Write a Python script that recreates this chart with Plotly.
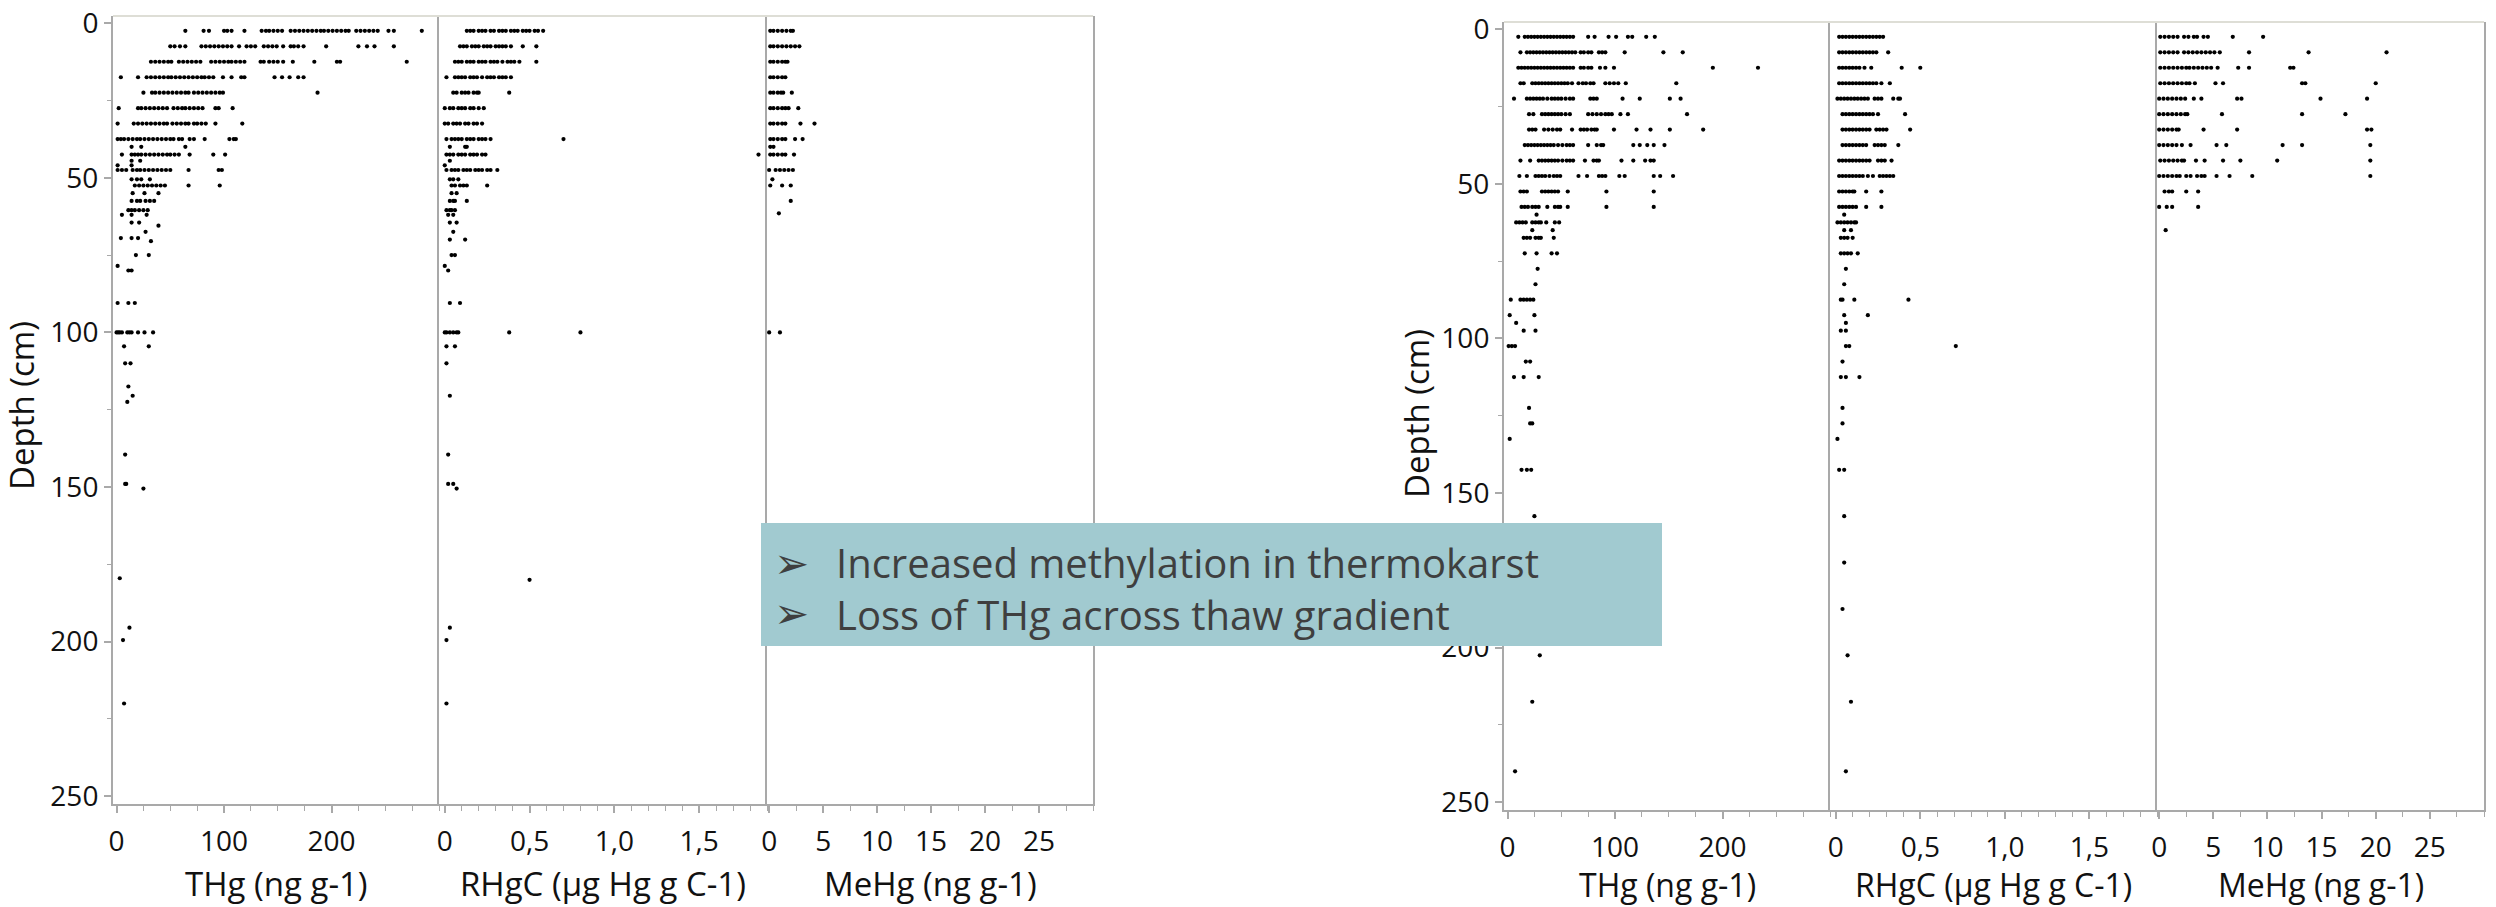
import plotly.graph_objects as go

# ---------------------------------------------------------------------------
# Soil-core profiles: depth (cm) rows and the values measured at each depth.
# Group A = left set of panels, group B = right set of panels.
# ---------------------------------------------------------------------------

# ---- group A : THg (ng g-1) ----
A_THG_DEPTH = [2.5, 7.5, 12.5, 17.5, 22.5, 27.5, 32.5, 37.5, 40, 42.5, 44.5, 46, 47.5,
               50.5, 52.5, 55, 57.5, 60.5, 62, 64.5, 65.5, 67.5, 69.5, 70.5, 75, 78.5,
               80, 90.5, 100, 104.5, 110, 117.5, 120.5, 122.5, 139.5, 149, 150.5,
               179.5, 195.5, 199.5, 220]
A_THG = [
    [64, 81, 86, 100, 103, 107, 119, 135, 139, 142, 146, 150, 154, 162, 166, 170, 174, 178,
     182, 186, 190, 193, 197, 201, 205, 209, 213, 216, 223, 227, 231, 235, 239, 243, 253, 258, 284],
    [50, 54, 59, 64, 79, 83, 87, 91, 95, 99, 103, 107, 114, 121, 125, 129, 137, 141, 145, 149,
     155, 162, 165, 169, 174, 195, 225, 233, 240, 258],
    [32, 36, 40, 44, 48, 51, 58, 62, 66, 70, 74, 78, 88, 92, 96, 100, 104, 107, 111, 115, 119,
     134, 137, 142, 146, 150, 155, 164, 184, 205, 208, 270],
    [4, 20, 28, 32, 36, 40, 44, 48, 51, 55, 59, 63, 67, 71, 75, 79, 82, 86, 90, 99, 107, 116,
     119, 147, 154, 161, 169, 174],
    [25, 33, 36, 40, 44, 48, 52, 56, 60, 64, 67, 72, 76, 80, 84, 88, 92, 96, 99, 187],
    [2, 20, 23, 27, 31, 35, 39, 43, 47, 53, 57, 61, 64, 68, 72, 76, 80, 92, 95, 108],
    [1, 16, 20, 24, 28, 32, 36, 40, 44, 47, 52, 56, 60, 64, 67, 72, 75, 79, 83, 92, 117],
    [1, 4, 7, 11, 15, 19, 22, 26, 30, 34, 38, 42, 46, 50, 53, 58, 61, 68, 72, 82, 105, 109, 111],
    [14, 23, 64],
    [5, 14, 17, 20, 23, 27, 31, 35, 39, 43, 47, 50, 54, 58, 68, 90, 101],
    [14, 22],
    [1, 14],
    [1, 5, 9, 15, 19, 22, 26, 30, 34, 38, 42, 46, 50, 67, 95, 98],
    [14, 19, 23, 31],
    [17, 21, 25, 29, 33, 37, 41, 45, 67, 96],
    [15, 26, 39],
    [14, 19, 22, 27, 31, 35],
    [11, 14, 17, 21, 25, 29],
    [5, 14, 28],
    [14, 21],
    [39],
    [27],
    [4, 14, 20],
    [32],
    [18, 30],
    [1],
    [11, 14],
    [1, 11, 17],
    [0, 1.5, 3, 5, 10, 12, 14, 20, 26, 34],
    [7, 30],
    [8, 13],
    [11],
    [15],
    [10],
    [8],
    [8, 9],
    [25],
    [3],
    [12],
    [6],
    [7],
]

# ---- group A : RHgC (µg Hg g C-1) ----
A_RHGC_DEPTH = [2.5, 7.5, 12.5, 17.5, 22.5, 27.5, 32.5, 37.5, 40, 42.5, 44.5, 46, 47.5,
                50.5, 52.5, 55, 57.5, 60.5, 62, 64.5, 67.5, 70, 75, 78.5, 80, 90.5, 100,
                104.5, 110, 120.5, 139.5, 149, 150.5, 180, 195.5, 199.5, 220]
A_RHGC = [
    [0.13, 0.15, 0.17, 0.20, 0.22, 0.24, 0.27, 0.29, 0.32, 0.34, 0.36, 0.39, 0.41, 0.43, 0.46,
     0.48, 0.50, 0.53, 0.55, 0.58],
    [0.09, 0.11, 0.13, 0.16, 0.18, 0.20, 0.23, 0.25, 0.27, 0.30, 0.32, 0.34, 0.36, 0.39, 0.46, 0.54],
    [0.06, 0.08, 0.10, 0.13, 0.15, 0.17, 0.20, 0.22, 0.24, 0.27, 0.29, 0.31, 0.34, 0.37, 0.39,
     0.41, 0.44, 0.54],
    [0.01, 0.06, 0.08, 0.10, 0.12, 0.15, 0.17, 0.19, 0.22, 0.25, 0.27, 0.29, 0.32, 0.34, 0.36, 0.39],
    [0.05, 0.07, 0.10, 0.12, 0.14, 0.17, 0.19, 0.20, 0.38],
    [0.00, 0.03, 0.05, 0.08, 0.10, 0.12, 0.15, 0.17, 0.20, 0.23],
    [0.00, 0.02, 0.05, 0.07, 0.09, 0.12, 0.14, 0.17, 0.19, 0.22],
    [0.01, 0.04, 0.06, 0.08, 0.10, 0.13, 0.15, 0.17, 0.20, 0.22, 0.24, 0.27, 0.70],
    [0.03, 0.12, 0.13],
    [0.01, 0.03, 0.05, 0.08, 0.10, 0.12, 0.15, 0.17, 0.19, 0.22, 0.24, 1.85],
    [0.03],
    [0.00],
    [0.01, 0.04, 0.06, 0.08, 0.11, 0.13, 0.15, 0.18, 0.20, 0.22, 0.25, 0.27, 0.31],
    [0.03, 0.05, 0.08],
    [0.04, 0.06, 0.09, 0.11, 0.13, 0.25],
    [0.04, 0.07],
    [0.03, 0.05, 0.06, 0.13],
    [0.01, 0.03, 0.04, 0.06],
    [0.02, 0.05],
    [0.03, 0.07],
    [0.05],
    [0.03, 0.12],
    [0.04, 0.06],
    [0.00],
    [0.02],
    [0.03, 0.09],
    [0.00, 0.01, 0.03, 0.05, 0.07, 0.08, 0.38, 0.80],
    [0.01, 0.06],
    [0.01],
    [0.03],
    [0.02],
    [0.02, 0.05],
    [0.07],
    [0.50],
    [0.03],
    [0.01],
    [0.01],
]

# ---- group A : MeHg (ng g-1) ----
A_MEHG_DEPTH = [2.5, 7.5, 12.5, 17.5, 22.5, 27.5, 32.5, 37.5, 40, 42.5, 47.5, 50.5,
                52.5, 57.5, 61.5, 100]
A_MEHG = [
    [0.1, 0.4, 0.8, 1.2, 1.6, 2.0, 2.2],
    [0.1, 0.4, 0.8, 1.2, 1.6, 2.0, 2.4, 2.8],
    [0.1, 0.4, 0.8, 1.2, 1.5, 1.7],
    [0.1, 0.4, 0.8, 1.2, 1.5],
    [0.1, 0.4, 0.8, 1.1, 1.3, 2.1],
    [0.1, 0.4, 0.8, 1.2, 1.5, 1.8, 2.7],
    [0.1, 0.4, 0.8, 1.2, 1.5, 2.9, 4.2],
    [0.1, 0.4, 0.8, 1.2, 1.5, 2.4, 3.1],
    [0.1, 0.4],
    [0.1, 0.4, 0.8, 1.2, 1.5, 2.3],
    [0.0, 0.6, 1.0, 1.4, 1.8, 2.2],
    [0.3],
    [0.1, 1.2, 2.0],
    [2.0],
    [0.9],
    [0.0, 1.0],
]

# ---- group B : THg (ng g-1) ----
B_THG_DEPTH = [2.5, 7.5, 12.5, 17.5, 22.5, 27.5, 32.5, 37.5, 42.5, 47.5, 52.5, 57.5, 60,
               62.5, 65, 67.5, 72.5, 77.5, 82.5, 87.5, 92.5, 95, 97.5, 102.5, 107.5,
               112.5, 122.5, 127.5, 132.5, 142.5, 157.5, 202.5, 217.5, 240]
B_THG = [
    [10, 16, 19, 22, 25, 28, 31, 34, 37, 40, 43, 46, 49, 52, 55, 58, 61, 75, 81, 94, 101, 112,
     116, 129, 137],
    [12, 18, 21, 24, 27, 30, 33, 36, 39, 42, 45, 48, 51, 54, 57, 60, 63, 68, 71, 75, 78, 85, 88,
     91, 109, 145, 163],
    [10, 13, 16, 19, 22, 25, 28, 31, 34, 37, 40, 43, 46, 49, 52, 55, 58, 61, 68, 71, 75, 78, 86,
     91, 99, 191, 233],
    [12, 15, 23, 26, 29, 32, 35, 38, 41, 44, 47, 50, 53, 56, 60, 66, 70, 73, 77, 80, 91, 95, 99,
     103, 110, 157],
    [6, 18, 21, 24, 27, 30, 33, 37, 41, 44, 47, 50, 54, 58, 61, 77, 80, 83, 107, 123, 151, 161],
    [20, 24, 32, 35, 38, 41, 44, 47, 50, 54, 58, 75, 79, 83, 87, 91, 94, 97, 105, 112, 167],
    [20, 23, 26, 34, 38, 42, 46, 49, 60, 68, 71, 74, 78, 81, 83, 99, 120, 133, 151, 182],
    [16, 19, 22, 25, 28, 31, 34, 37, 40, 43, 47, 51, 55, 58, 61, 75, 83, 87, 89, 117, 123, 130,
     136, 146],
    [12, 21, 29, 32, 35, 38, 41, 44, 47, 51, 55, 58, 61, 72, 80, 83, 85, 106, 117, 128, 133, 136],
    [11, 18, 26, 29, 32, 35, 39, 43, 46, 49, 66, 74, 85, 88, 91, 104, 109, 136, 142, 154],
    [12, 15, 18, 32, 35, 38, 41, 44, 47, 56, 92, 136],
    [13, 16, 19, 23, 26, 29, 37, 44, 47, 49, 56, 92, 136],
    [27],
    [8, 11, 14, 17, 23, 26, 29, 31, 36, 44, 48],
    [23, 42],
    [15, 18, 21, 26, 29, 31, 43],
    [16, 27, 41, 46],
    [28],
    [26],
    [3, 12, 15, 18, 21, 24],
    [2, 25],
    [8],
    [15, 26],
    [1, 4, 7],
    [17, 21],
    [6, 15, 29],
    [20],
    [21, 23],
    [2],
    [13, 18, 22],
    [25],
    [30],
    [23],
    [7],
]

# ---- group B : RHgC (µg Hg g C-1) ----
B_RHGC_DEPTH = [2.5, 7.5, 12.5, 17.5, 22.5, 27.5, 32.5, 37.5, 42.5, 47.5, 52.5, 57.5, 60,
                62.5, 65, 67.5, 72.5, 77.5, 82.5, 87.5, 92.5, 95, 97.5, 102.5, 107.5, 112.5,
                122.5, 127.5, 132.5, 142.5, 157.5, 172.5, 187.5, 202.5, 217.5, 240]
B_RHGC = [
    [0.02, 0.04, 0.06, 0.08, 0.10, 0.12, 0.14, 0.16, 0.18, 0.20, 0.22, 0.24, 0.26, 0.28],
    [0.02, 0.04, 0.06, 0.08, 0.10, 0.12, 0.14, 0.16, 0.18, 0.20, 0.22, 0.24, 0.31],
    [0.02, 0.04, 0.06, 0.08, 0.10, 0.12, 0.14, 0.17, 0.21, 0.39, 0.50],
    [0.02, 0.04, 0.06, 0.08, 0.10, 0.12, 0.14, 0.16, 0.18, 0.20, 0.22, 0.24, 0.27, 0.32],
    [0.01, 0.03, 0.05, 0.07, 0.09, 0.11, 0.13, 0.15, 0.17, 0.19, 0.23, 0.25, 0.27, 0.34, 0.37, 0.38],
    [0.04, 0.06, 0.08, 0.10, 0.12, 0.14, 0.16, 0.18, 0.20, 0.22, 0.25, 0.41],
    [0.04, 0.06, 0.08, 0.10, 0.12, 0.14, 0.16, 0.18, 0.20, 0.24, 0.26, 0.28, 0.30, 0.44],
    [0.04, 0.06, 0.08, 0.10, 0.12, 0.14, 0.16, 0.18, 0.23, 0.25, 0.27, 0.29, 0.37],
    [0.02, 0.04, 0.06, 0.08, 0.10, 0.12, 0.14, 0.16, 0.18, 0.20, 0.25, 0.27, 0.29, 0.33],
    [0.02, 0.04, 0.06, 0.08, 0.10, 0.12, 0.14, 0.16, 0.19, 0.22, 0.26, 0.28, 0.30, 0.32, 0.34],
    [0.02, 0.04, 0.06, 0.08, 0.10, 0.11, 0.18, 0.27],
    [0.02, 0.04, 0.06, 0.08, 0.10, 0.12, 0.18, 0.27],
    [0.05],
    [0.01, 0.03, 0.05, 0.07, 0.09, 0.11, 0.12],
    [0.05, 0.09],
    [0.03, 0.05, 0.07, 0.10],
    [0.03, 0.05, 0.07, 0.09, 0.13],
    [0.06],
    [0.05],
    [0.03, 0.04, 0.11, 0.43],
    [0.05, 0.19],
    [0.06],
    [0.03, 0.06],
    [0.06, 0.08, 0.71],
    [0.04],
    [0.03, 0.06, 0.14],
    [0.04],
    [0.04],
    [0.01],
    [0.02, 0.05],
    [0.05],
    [0.05],
    [0.04],
    [0.07],
    [0.09],
    [0.06],
]

# ---- group B : MeHg (ng g-1) ----
B_MEHG_DEPTH = [2.5, 7.5, 12.5, 17.5, 22.5, 27.5, 32.5, 37.5, 42.5, 47.5, 52.5, 57.5, 65]
B_MEHG = [
    [0.1, 0.5, 0.9, 1.3, 1.7, 2.3, 2.7, 3.2, 3.5, 4.1, 4.5, 6.8, 9.6],
    [0.1, 0.5, 0.9, 1.3, 1.7, 2.3, 2.7, 3.1, 3.5, 3.9, 4.3, 4.7, 5.1, 5.6, 8.3, 13.8, 21.0],
    [0.1, 0.5, 0.9, 1.3, 1.7, 2.1, 2.5, 2.8, 3.2, 3.6, 4.0, 4.4, 4.8, 5.4, 7.3, 8.3, 12.1, 12.4],
    [0.1, 0.5, 0.9, 1.3, 1.7, 2.1, 2.5, 2.8, 3.3, 5.2, 5.9, 13.2, 13.5, 20.0],
    [0.0, 0.4, 0.8, 1.2, 1.6, 2.0, 2.4, 3.2, 3.9, 7.2, 7.6, 14.9, 19.2],
    [0.0, 0.4, 0.8, 1.2, 1.6, 2.0, 2.4, 2.6, 5.8, 13.2, 17.2],
    [0.0, 0.4, 0.8, 1.2, 1.6, 1.8, 4.1, 7.2, 19.2, 19.6],
    [0.0, 0.4, 0.8, 1.2, 1.6, 2.1, 2.9, 5.3, 6.2, 11.4, 13.2, 19.5],
    [0.1, 0.5, 0.9, 1.3, 1.7, 2.1, 2.3, 3.4, 4.2, 5.9, 7.5, 10.9, 19.5],
    [0.0, 0.4, 0.8, 1.2, 1.6, 1.9, 2.5, 2.9, 3.5, 3.9, 4.2, 5.3, 6.5, 8.6, 19.5],
    [0.5, 0.9, 1.2, 2.5, 3.6],
    [0.0, 0.7, 1.2, 3.6],
    [0.6],
]

# ---- axis labelling ----
X_TITLES = ["THg (ng g-1)", "RHgC (µg Hg g C-1)", "MeHg (ng g-1)"]
X_TICKVALS = [[0, 100, 200], [0, 0.5, 1.0, 1.5], [0, 5, 10, 15, 20, 25]]
X_TICKTEXT = [["0", "100", "200"], ["0", "0,5", "1,0", "1,5"],
              ["0", "5", "10", "15", "20", "25"]]
DEPTH_TICKVALS = [0, 50, 100, 150, 200, 250]
Y_TITLE = "Depth (cm)"
NOTES = ["Increased methylation in thermokarst", "Loss of THg across thaw gradient"]

# ---------------------------------------------------------------------------
# Layout geometry (pixels of the 2496 x 907 page) and styling
# ---------------------------------------------------------------------------
W, H = 2496, 907
GROUPS = [
    dict(x_edges=[113, 439, 767, 1093], top=16, bottom=804,
         ytitle_x=21, ytitle_y=406, xtitle_y=883, xtitle_size=33),
    dict(x_edges=[1504, 1830, 2157, 2484], top=22, bottom=810,
         ytitle_x=1417, ytitle_y=414, xtitle_y=884, xtitle_size=32),
]
X_RANGES = [[-3.3, 300], [-0.034, 1.9], [-0.2, 30]]
X_MINOR = [25, 0.1, 2.5]
DEPTH_RANGE = [252.5, -2.3]

FONT = "Open Sans, Noto Sans, sans-serif"
AXIS_COLOR = "#a9a9a9"
TOP_COLOR = "#deded6"
TEXT_COLOR = "#111111"
NOTE_COLOR = "#3f3f3f"

PANEL_DATA = [
    [(A_THG_DEPTH, A_THG), (A_RHGC_DEPTH, A_RHGC), (A_MEHG_DEPTH, A_MEHG)],
    [(B_THG_DEPTH, B_THG), (B_RHGC_DEPTH, B_RHGC), (B_MEHG_DEPTH, B_MEHG)],
]


def expand(depths, rows):
    xs, ys = [], []
    for d, vals in zip(depths, rows):
        xs.extend(vals)
        ys.extend([d] * len(vals))
    return xs, ys


def suffix(k):
    return "" if k == 1 else str(k)


fig = go.Figure()
layout = dict(
    width=W, height=H,
    margin=dict(l=0, r=0, t=0, b=0, pad=0, autoexpand=False),
    paper_bgcolor="white", plot_bgcolor="white",
    showlegend=False,
    font=dict(family=FONT, color=TEXT_COLOR),
)
annotations = []
shapes = []

for gi, g in enumerate(GROUPS):
    edges = g["x_edges"]
    ydom = [1 - g["bottom"] / H, 1 - g["top"] / H]
    first_y = "y" + suffix(gi * 3 + 1)
    for ci in range(3):
        k = gi * 3 + ci + 1
        xref, yref = "x" + suffix(k), "y" + suffix(k)
        depths, rows = PANEL_DATA[gi][ci]
        xs, ys = expand(depths, rows)
        fig.add_trace(go.Scatter(
            x=xs, y=ys, xaxis=xref, yaxis=yref, mode="markers",
            marker=dict(size=4.2, color="black"),
            cliponaxis=False, hoverinfo="skip",
        ))

        layout["xaxis" + suffix(k)] = dict(
            domain=[edges[ci] / W, edges[ci + 1] / W], anchor=yref,
            range=X_RANGES[ci], tickmode="array",
            tickvals=X_TICKVALS[ci], ticktext=X_TICKTEXT[ci],
            ticks="outside", ticklen=7, tickwidth=1.5, tickcolor=AXIS_COLOR,
            ticklabelstandoff=4,
            minor=dict(dtick=X_MINOR[ci], tick0=0, ticks="outside", ticklen=5,
                       tickwidth=1.2, tickcolor=AXIS_COLOR, showgrid=False),
            showline=True, linecolor=AXIS_COLOR, linewidth=2,
            showgrid=False, zeroline=False, fixedrange=True, automargin=False,
            tickfont=dict(size=28, family=FONT, color=TEXT_COLOR),
        )
        yax = dict(
            domain=ydom, anchor=xref, range=DEPTH_RANGE,
            showline=True, linecolor=AXIS_COLOR, linewidth=2,
            showgrid=False, zeroline=False, fixedrange=True, automargin=False,
            mirror=(ci == 2),
        )
        if ci == 0:
            yax.update(
                tickmode="array", tickvals=DEPTH_TICKVALS,
                ticks="outside", ticklen=7, tickwidth=1.5, tickcolor=AXIS_COLOR,
                minor=dict(dtick=25, tick0=0, ticks="outside", ticklen=4,
                           tickwidth=1.2, tickcolor=AXIS_COLOR, showgrid=False),
                tickfont=dict(size=28, family=FONT, color=TEXT_COLOR),
            )
        else:
            yax.update(matches=first_y, showticklabels=False, ticks="")
        layout["yaxis" + suffix(k)] = yax

        # axis title under each panel
        annotations.append(dict(
            text=X_TITLES[ci], xref="paper", yref="paper",
            x=(edges[ci] + edges[ci + 1]) / 2 / W, y=1 - g["xtitle_y"] / H,
            xanchor="center", yanchor="middle", showarrow=False,
            font=dict(size=g["xtitle_size"], family=FONT, color=TEXT_COLOR),
        ))

    # depth title, rotated
    annotations.append(dict(
        text=Y_TITLE, xref="paper", yref="paper",
        x=g["ytitle_x"] / W, y=1 - g["ytitle_y"] / H, textangle=-90,
        xanchor="center", yanchor="middle", showarrow=False,
        font=dict(size=33, family=FONT, color=TEXT_COLOR),
    ))

    # light frame line along the top of the panel group
    shapes.append(dict(
        type="line", xref="paper", yref="paper",
        x0=edges[0] / W, x1=edges[-1] / W,
        y0=1 - g["top"] / H, y1=1 - g["top"] / H,
        line=dict(color=TOP_COLOR, width=2), layer="above",
    ))

# summary box overlaid across the middle of the figure
BOX = dict(x0=761, x1=1662, y0=523, y1=646)
shapes.append(dict(
    type="rect", xref="paper", yref="paper",
    x0=BOX["x0"] / W, x1=BOX["x1"] / W,
    y0=1 - BOX["y1"] / H, y1=1 - BOX["y0"] / H,
    fillcolor="#a1cad0", line=dict(width=0), layer="above",
))
for i in range(len(NOTES)):
    annotations.append(dict(
        text="➢", xref="paper", yref="paper", x=791 / W, y=1 - (563 + 50 * i) / H,
        xanchor="center", yanchor="middle", showarrow=False,
        font=dict(size=42, family="DejaVu Sans", color=NOTE_COLOR),
    ))
annotations.append(dict(
    text="<br>".join(NOTES), xref="paper", yref="paper", x=834 / W, y=1 - 588 / H,
    xanchor="left", yanchor="middle", align="left", showarrow=False,
    font=dict(size=40, family=FONT, color=NOTE_COLOR),
))

layout["annotations"] = annotations
layout["shapes"] = shapes
fig.update_layout(**layout)

fig.write_html("out.html")
